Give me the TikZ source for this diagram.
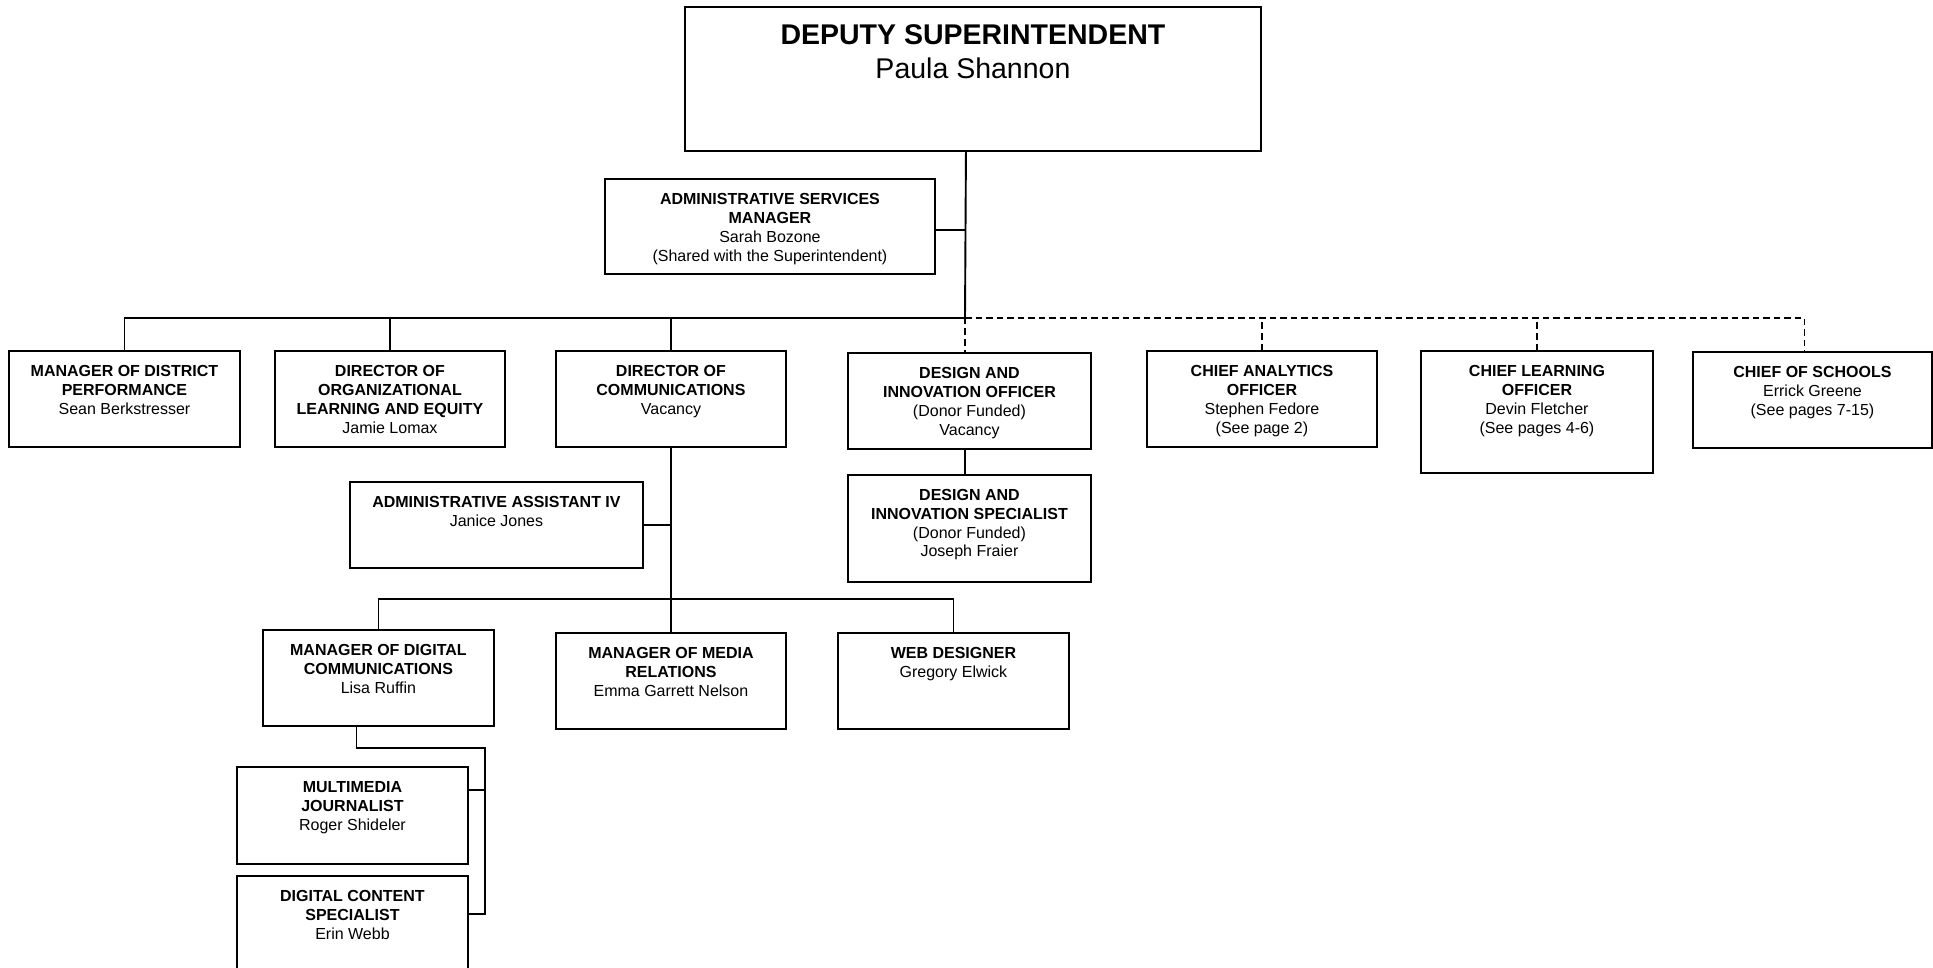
\documentclass[tikz,border=0pt]{standalone}
\usepackage{fontspec}
\setmainfont{Liberation Sans}
\usetikzlibrary{positioning, calc}

\begin{document}
\begin{tikzpicture}[x=1pt, y=-1pt, line width=1.9pt,
  box/.style={draw, rectangle, anchor=north west, inner sep=0pt, minimum width=231pt, minimum height=96pt},
  txt/.style={anchor=north, yshift=-#1, align=center, inner sep=0pt, font=\fontsize{16}{18.8}\selectfont},
  txt/.default=14.5pt,
  dashline/.style={dash pattern=on 6.5pt off 4pt}]

  \clip (0,0) rectangle (1933,968);

  % top
  \node[box, minimum width=576pt, minimum height=144pt,
    label={[txt=17.5pt, font=\fontsize{28.5}{34}\selectfont]north:\textbf{DEPUTY SUPERINTENDENT}\\Paula Shannon}] (deputy) at (684,6) {};
  \node[box, minimum width=330pt, minimum height=95pt,
    label={[txt]north:\textbf{ADMINISTRATIVE SERVICES}\\\textbf{MANAGER}\\Sarah Bozone\\(Shared with the Superintendent)}] (adminsvc) at (604,178) {};

  % direct reports
  \node[box, label={[txt]north:\textbf{MANAGER OF DISTRICT}\\\textbf{PERFORMANCE}\\Sean Berkstresser}] (mdp) at (8,350) {};
  \node[box, minimum width=230pt, label={[txt]north:\textbf{DIRECTOR OF}\\\textbf{ORGANIZATIONAL}\\\textbf{LEARNING AND EQUITY}\\Jamie Lomax}] (dole) at (274,350) {};
  \node[box, minimum width=230pt, label={[txt]north:\textbf{DIRECTOR OF}\\\textbf{COMMUNICATIONS}\\Vacancy}] (doc) at (555,350) {};
  \node[box, minimum width=243pt, label={[txt]north:\textbf{DESIGN AND}\\\textbf{INNOVATION OFFICER}\\(Donor Funded)\\Vacancy}] (dio) at (847,352) {};
  \node[box, minimum width=230pt, label={[txt]north:\textbf{CHIEF ANALYTICS}\\\textbf{OFFICER}\\Stephen Fedore\\(See page 2)}] (cao) at (1146,350) {};
  \node[box, minimum width=232pt, minimum height=122pt, label={[txt]north:\textbf{CHIEF LEARNING}\\\textbf{OFFICER}\\Devin Fletcher\\(See pages 4-6)}] (clo) at (1420,350) {};
  \node[box, minimum width=239pt, label={[txt]north:\textbf{CHIEF OF SCHOOLS}\\Errick Greene\\(See pages 7-15)}] (cos) at (1692,351) {};

  \node[box, anchor=north, minimum width=243pt, minimum height=107pt, below=24pt of dio,
    label={[txt]north:\textbf{DESIGN AND}\\\textbf{INNOVATION SPECIALIST}\\(Donor Funded)\\Joseph Fraier}] (dis) {};

  % communications
  \node[box, minimum width=293pt, minimum height=86pt, label={[txt]north:\textbf{ADMINISTRATIVE ASSISTANT IV}\\Janice Jones}] (aaiv) at (349,481) {};
  \node[box, label={[txt]north:\textbf{MANAGER OF DIGITAL}\\\textbf{COMMUNICATIONS}\\Lisa Ruffin}] (mdc) at (262,629) {};
  \node[box, minimum width=230pt, label={[txt]north:\textbf{MANAGER OF MEDIA}\\\textbf{RELATIONS}\\Emma Garrett Nelson}] (mmr) at (555,632) {};
  \node[box, label={[txt]north:\textbf{WEB DESIGNER}\\Gregory Elwick}] (wd) at (837,632) {};
  \node[box, minimum height=97pt, label={[txt]north:\textbf{MULTIMEDIA}\\\textbf{JOURNALIST}\\Roger Shideler}] (mj) at (236,766) {};
  \node[box, anchor=north, minimum height=130pt, below=10pt of mj,
    label={[txt]north:\textbf{DIGITAL CONTENT}\\\textbf{SPECIALIST}\\Erin Webb}] (dcs) {};

  % connectors
  \coordinate (trunk) at (965,318);
  \coordinate (astap) at ([yshift=-4pt]adminsvc.east);
  \draw ([xshift=-7pt]deputy.south) -- (trunk);
  \draw (astap) -- (astap -| trunk);
  \draw (mdp.north) |- (trunk);
  \draw (dole.north) -- (dole.north |- trunk);
  \draw (doc.north) -- (doc.north |- trunk);
  \draw[dashline] (trunk) -| ([xshift=-8pt]cos.north);
  \draw[dashline] (trunk) -- (trunk |- dio.north);
  \draw[dashline] (cao.north) -- (cao.north |- trunk);
  \draw[dashline] (clo.north) -- (clo.north |- trunk);
  \draw (trunk |- dio.south) -- (trunk |- dis.north);

  \coordinate (docbus) at (670,599);
  \draw (doc.south) -- (mmr.north);
  \draw (aaiv.east) -- (aaiv.east -| doc.south);
  \draw (mdc.north) |- (docbus) -| (wd.north);

  \coordinate (mdcrail) at (485,748);
  \coordinate (mjtap) at ([yshift=-24pt]mj.north east);
  \coordinate (dcstap) at ([yshift=-39pt]dcs.north east);
  \draw ([xshift=-22pt]mdc.south) |- (mdcrail) |- (dcstap);
  \draw (mjtap) -- (mjtap -| mdcrail);

\end{tikzpicture}
\end{document}
